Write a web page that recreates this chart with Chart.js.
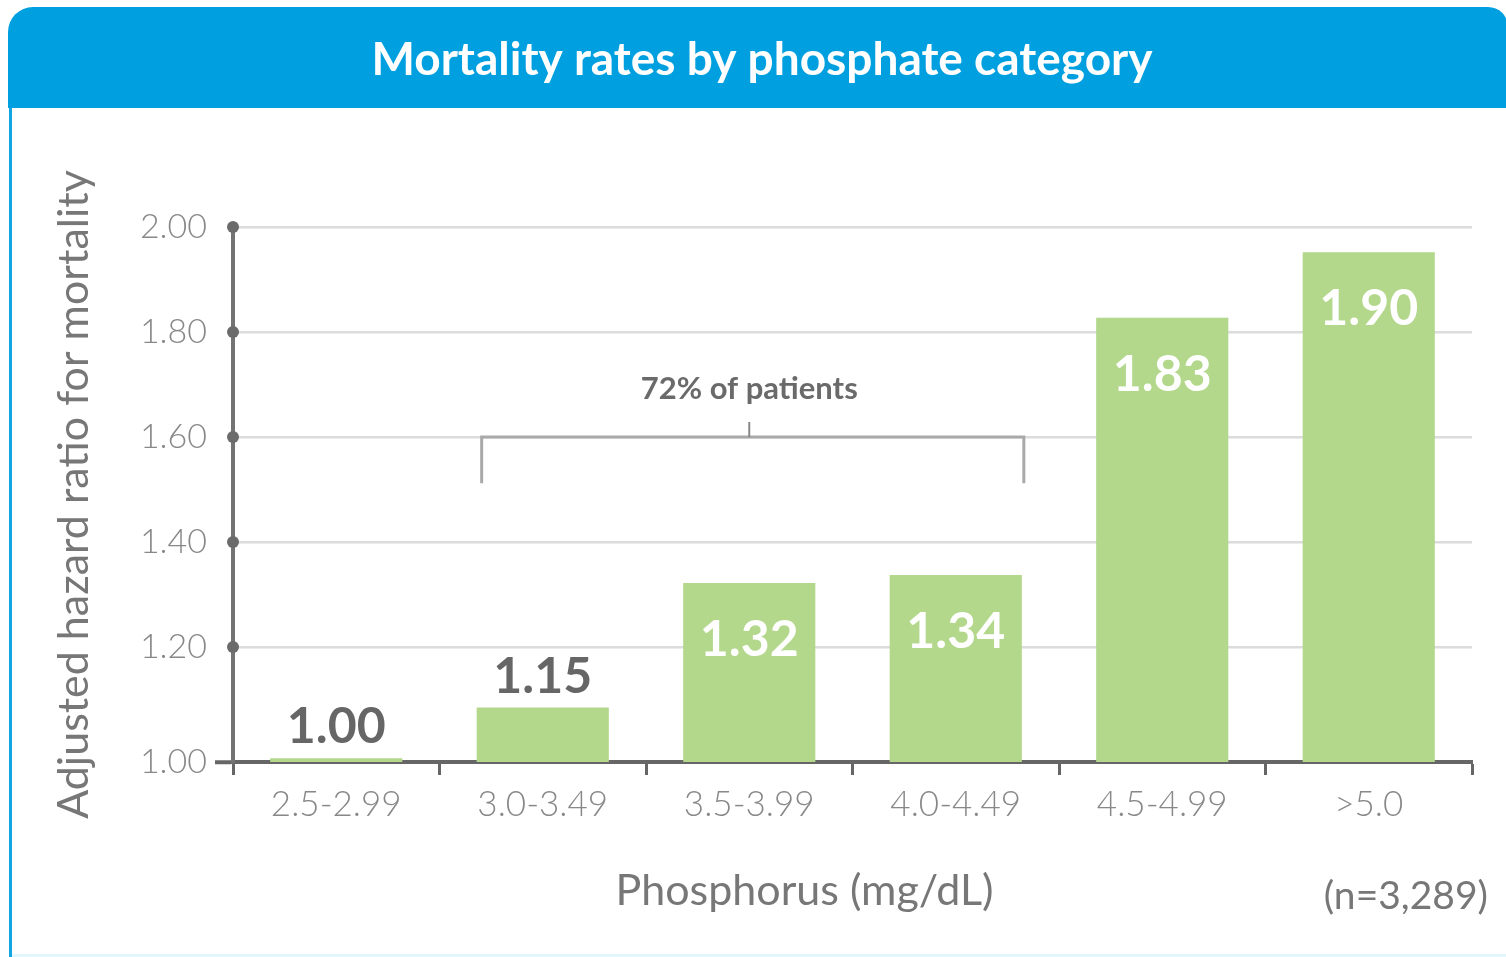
<!DOCTYPE html>
<html>
<head>
<meta charset="utf-8">
<script src="https://cdn.jsdelivr.net/npm/chart.js@4"></script>
<style>
  html, body { margin: 0; padding: 0; background: #ffffff; }
  #wrap { position: absolute; left: 0; top: 0; width: 1506px; height: 957px; }
</style>
</head>
<body>
<div id="wrap"><canvas id="c" width="1506" height="957"></canvas></div>
<script>
// ---- data ----
const chartTitle = 'Mortality rates by phosphate category';
const yAxisTitle = 'Adjusted hazard ratio for mortality';
const xAxisTitle = 'Phosphorus (mg/dL)';
const sampleNote = '(n=3,289)';
const bracketNote = '72% of patients';
const categories = ['2.5-2.99', '3.0-3.49', '3.5-3.99', '4.0-4.49', '4.5-4.99', '>5.0'];
const barHeights = [0.988, 1.085, 1.322, 1.337, 1.827, 1.952];   // heights as drawn
const barLabels = ['1.00', '1.15', '1.32', '1.34', '1.83', '1.90']; // printed values
const yTickValues = [1.00, 1.20, 1.40, 1.60, 1.80, 2.00];
const yAxisFloor = 0.981;   // the axis line sits a little below the 1.00 step
const yAxisTop = 2.00;
const bracketFrom = 1, bracketTo = 3, bracketLevel = 1.60, bracketDrop = 1.512;

const FONT = 'Lato, "Open Sans", "Noto Sans", sans-serif';
const isFloor = v => Math.abs(v - yAxisFloor) < 1e-6;

const framePlugin = {
  id: 'frame',
  beforeDraw(chart) {
    const ctx = chart.ctx;
    ctx.save();
    ctx.fillStyle = '#ffffff';
    ctx.fillRect(0, 0, chart.width, chart.height);
    // left border
    ctx.fillStyle = '#12a6e2';
    ctx.fillRect(9, 90, 3, chart.height - 90);
    // bottom faint line
    ctx.fillStyle = '#e3f6fc';
    ctx.fillRect(12, chart.height - 3, chart.width - 12, 3);
    // header
    ctx.fillStyle = '#009fdf';
    ctx.beginPath();
    ctx.roundRect(8, 7, chart.width - 6, 101, [25, 20, 0, 0]);
    ctx.fill();
    // header title
    ctx.fillStyle = '#ffffff';
    ctx.font = 'bold 46px ' + FONT;
    ctx.textAlign = 'center';
    ctx.textBaseline = 'middle';
    ctx.fillText(chartTitle, 762, 60);
    ctx.restore();
  }
};

const decorPlugin = {
  id: 'decor',
  afterDatasetsDraw(chart) {
    const ctx = chart.ctx;
    const meta = chart.getDatasetMeta(0);
    ctx.save();
    ctx.font = 'bold 50px ' + FONT;
    ctx.textAlign = 'center';
    ctx.textBaseline = 'middle';
    meta.data.forEach((bar, i) => {
      const v = barHeights[i];
      if (v > 1.2) {
        ctx.fillStyle = '#ffffff';
        ctx.fillText(barLabels[i], bar.x, bar.y + 57);
      } else {
        ctx.fillStyle = '#666666';
        ctx.fillText(barLabels[i], bar.x, bar.y - 31);
      }
    });
    ctx.restore();
  },
  afterDraw(chart) {
    const ctx = chart.ctx;
    const y = chart.scales.y;
    const ca = chart.chartArea;
    ctx.save();
    // y-axis dots
    ctx.fillStyle = '#6b6b6b';
    y.ticks.forEach(t => {
      if (isFloor(t.value)) return;
      ctx.beginPath();
      ctx.arc(ca.left, y.getPixelForValue(t.value), 6, 0, Math.PI * 2);
      ctx.fill();
    });
    // bracket
    const meta = chart.getDatasetMeta(0);
    const b1 = meta.data[bracketFrom], b2 = meta.data[bracketTo];
    const xl = b1.x - b1.width / 2 + 5;
    const xr = b2.x + b2.width / 2 + 2;
    const yb = y.getPixelForValue(bracketLevel);
    const yd = y.getPixelForValue(bracketDrop);
    const xm = (b1.x + b2.x) / 2;
    ctx.strokeStyle = '#a9a9a9';
    ctx.lineWidth = 3;
    ctx.beginPath();
    ctx.moveTo(xl, yd); ctx.lineTo(xl, yb); ctx.lineTo(xr, yb); ctx.lineTo(xr, yd);
    ctx.stroke();
    ctx.lineWidth = 2;
    ctx.strokeStyle = '#888888';
    ctx.beginPath();
    ctx.moveTo(xm, yb); ctx.lineTo(xm, yb - 15);
    ctx.stroke();
    ctx.fillStyle = '#6a6a6a';
    ctx.font = 'bold 31px ' + FONT;
    ctx.textAlign = 'center';
    ctx.textBaseline = 'middle';
    ctx.fillText(bracketNote, xm, yb - 48);
    // x title & note
    ctx.fillStyle = '#777777';
    ctx.font = '43px ' + FONT;
    ctx.fillText(xAxisTitle, (ca.left + ca.right) / 2 - 48, ca.bottom + 129);
    ctx.font = '39px ' + FONT;
    ctx.textAlign = 'right';
    ctx.fillText(sampleNote, 1488, ca.bottom + 134);
    ctx.restore();
  }
};

new Chart(document.getElementById('c'), {
  type: 'bar',
  data: {
    labels: categories,
    datasets: [{
      data: barHeights,
      backgroundColor: '#b3d78b',
      borderWidth: 0,
      barPercentage: 0.64,
      categoryPercentage: 1.0
    }]
  },
  options: {
    responsive: false,
    animation: false,
    devicePixelRatio: 1,
    layout: { padding: { left: 0, right: 34, top: 227, bottom: 0 } },
    plugins: {
      legend: { display: false },
      tooltip: { enabled: false },
      title: { display: false }
    },
    scales: {
      x: {
        type: 'category',
        offset: true,
        grid: {
          display: true, offset: true, drawOnChartArea: false, drawTicks: true,
          tickLength: 13, tickWidth: 3, tickColor: '#666666'
        },
        border: { display: true, color: '#666666', width: 4 },
        ticks: { color: '#888888', font: { family: FONT, size: 35, weight: '300' }, padding: 9, maxRotation: 0 },
        afterFit: s => { s.height = 195; }
      },
      y: {
        type: 'linear',
        min: yAxisFloor,
        max: yAxisTop,
        afterBuildTicks: s => {
          s.ticks = yTickValues.map(v => ({ value: v === 1 ? yAxisFloor : v }));
        },
        grid: {
          color: c => (c.tick && isFloor(c.tick.value)) ? 'rgba(0,0,0,0)' : '#dcdcdc',
          lineWidth: 2.5,
          drawTicks: true,
          tickLength: 18,
          tickWidth: 4,
          tickColor: c => (c.tick && isFloor(c.tick.value)) ? '#666666' : 'rgba(0,0,0,0)'
        },
        border: { display: true, color: '#737373', width: 4 },
        ticks: {
          color: '#888888',
          font: { family: FONT, size: 34, weight: '300' },
          padding: 8,
          callback: v => isFloor(v) ? '1.00' : Number(v).toFixed(2)
        },
        title: {
          display: true,
          text: yAxisTitle,
          color: '#777777',
          font: { family: FONT, size: 43 },
          padding: { top: 48, bottom: 0 }
        },
        afterFit: s => { s.width = 233; }
      }
    }
  },
  plugins: [framePlugin, decorPlugin]
});
</script>
</body>
</html>
